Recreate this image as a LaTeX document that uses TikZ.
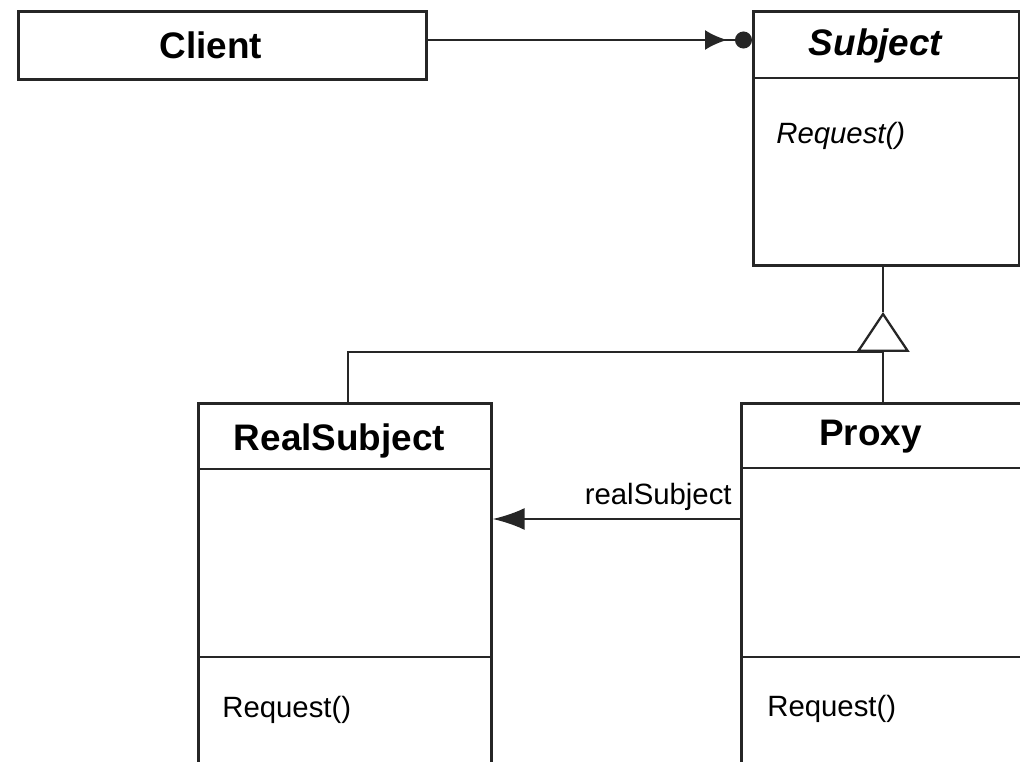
\documentclass[tikz,border=0pt]{standalone}
\usepackage{fontspec}
\setmainfont{Liberation Sans}
\usetikzlibrary{arrows.meta}
\begin{document}
\begin{tikzpicture}[
    classbox/.style={draw=black!85, line width=1.5pt, fill=white, anchor=north west, inner sep=0pt},
    title/.style={font=\fontsize{21}{25}\selectfont\bfseries},
    member/.style={font=\fontsize{16.7}{20}\selectfont, anchor=west, inner sep=0pt},
    link/.style={draw=black!85, line width=1.3pt}
]
\useasboundingbox (0,0) rectangle (20.4,15.24);
\clip (0,0) rectangle (20.4,15.24);

% Classes
\node[classbox, minimum width=8.16cm, minimum height=1.36cm] (client) at (0.34,15.04) {};
\node[classbox, minimum width=5.32cm, minimum height=5.08cm] (subject) at (15.04,15.04) {};
\node[classbox, minimum width=5.86cm, minimum height=7.8cm] (real) at (3.94,7.2) {};
\node[classbox, minimum width=6.4cm, minimum height=7.8cm] (proxy) at (14.8,7.2) {};

% Compartments
\draw[link] (subject.west |- 0,13.68) -- (subject.east |- 0,13.68);
\draw[link] (real.west |- 0,5.86) -- (real.east |- 0,5.86);
\draw[link] (real.west |- 0,2.1) -- (real.east |- 0,2.1);
\draw[link] (proxy.west |- 0,5.88) -- (proxy.east |- 0,5.88);
\draw[link] (proxy.west |- 0,2.1) -- (proxy.east |- 0,2.1);

% Texts
\node[title] (clientname) at (4.22,14.34) {Client};
\node[title] (subjectname) at (17.51,14.32) {\itshape Subject};
\node[member] (subjectop) at (15.52,12.52) {\itshape Request()};
\node[title] (realname) at (6.79,6.42) {RealSubject};
\node[member] (realop) at (4.44,1.04) {Request()};
\node[title] (proxyname) at (17.41,6.5) {Proxy};
\node[member] (proxyop) at (15.34,1.06) {Request()};

% Client uses Subject
\coordinate (cl) at (8.5,14.44);
\draw[link, -{Latex[length=4.4mm,width=4mm,sep=1.6mm]Circle[length=3.4mm]}]
    (cl) -- (cl -| subject.west);

% Generalisation
\coordinate (apex) at (17.66,9.0);
\coordinate (join) at (17.66,8.2);
\draw[link] (apex) -- (apex |- subject.south);
\draw[link, -{Triangle[open,length=8mm,width=10.6mm]}] (apex |- proxy.north) -- (apex);
\draw[link] (real.north -| 6.96,0) |- (join);

% Association
\coordinate (as) at (14.8,4.86);
\draw[link, -{Latex[length=6.4mm,width=4.4mm]}] (as) -- (as -| real.east);
\node[member, anchor=east] (rolename) at ([xshift=-0.16cm,yshift=0.44cm]as) {realSubject};
\end{tikzpicture}
\end{document}
